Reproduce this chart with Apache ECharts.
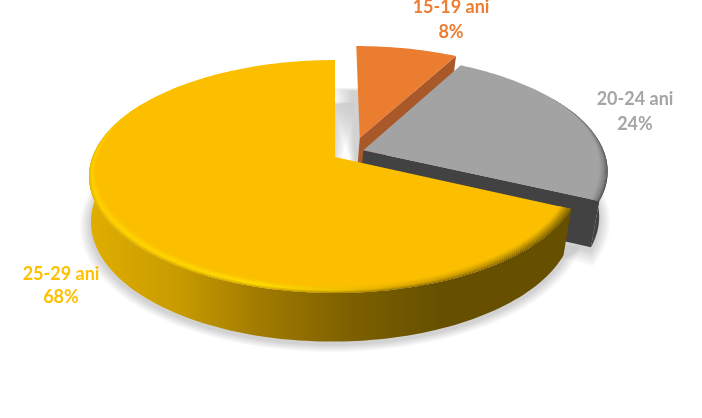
<!DOCTYPE html>
<html><head><meta charset="utf-8">
<style>html,body{margin:0;padding:0;background:#fff}#c{width:702px;height:418px}</style>
<script src="https://cdn.jsdelivr.net/npm/echarts@6/dist/echarts.min.js"></script>
</head><body><div id="c"></div>
<script>
const categories = ['15-19 ani', '20-24 ani', '25-29 ani'];
const shares = [8, 24, 68];

// view geometry of the tilted disc
const V = {cx:335, cy:157, rx:242.5, ry:113.2, p:0.1674, depth:45, lowX:0.98, lowY:0.96, lowShift:-3, wallFrom:60, wallTo:300};
const total = shares.reduce((a,b)=>a+b,0);
const starts = []; shares.reduce((a,v)=>{starts.push(a); return a+v/total*360;},0);
const looks = [
 {face:'#EB7D31', wall:'#A9582A', pull:[0.105,-0.172], label:[451,7,32], text:'#ED7D31'},
 {face:'#A3A3A3', wall:'#424242', pull:[0.118,-0.06], label:[635,99,124], text:'#A5A5A5',
  rim:{from:62,full:100,to:999,width:0.035,stops:[0,1],edge:['#444444','#444444'],bright:['#7d7d7d','#7d7d7d']}},
 {face:'#FBBF00', wallStops:[[90,'#E0AE00'],[180,'#C79A00'],[260,'#A17B00'],[350,'#7D6000'],[440,'#665000'],[570,'#665000']],
  wall:'#665000', pull:[0,0], label:[61,274,297], text:'#FFC000',
  rim:{from:-999,full:235,to:302,width:0.046,stops:[90,260,400,560],
       edge:['#E0AE00','#C89A00','#7A5E00','#665000'],bright:['#FFD600','#FFE600','#D9A500','#9A7600']}}
];
const rad = d=>d*Math.PI/180;
function upper(X,Y){const w=1-V.p*Y;return [V.cx+V.rx*X/w,V.cy+V.ry*Y/w];}
function lower(X,Y){const w=1-V.p*Y;return [V.cx+V.lowShift+V.lowX*V.rx*X/w,V.cy+V.lowY*V.ry*Y/w+V.depth/w];}
function on(pull,a,r){return [pull[0]+r*Math.sin(rad(a)),pull[1]-r*Math.cos(rad(a))];}
function arc(f,pull,a0,a1,r){const o=[];const n=Math.max(2,Math.ceil((a1-a0)/1.5));
  for(let i=0;i<=n;i++){const a=a0+(a1-a0)*i/n;const q=on(pull,a,typeof r==='function'?r(a):r);o.push(f(q[0],q[1]));}return o;}
function hex(c){return [1,3,5].map(i=>parseInt(c.substr(i,2),16));}
function mix(a,b,t){const x=hex(a),y=hex(b);return 'rgb('+x.map((v,i)=>Math.round(v+(y[i]-v)*t)).join(',')+')';}
function sweep(stops){const x0=stops[0][0],x1=stops[stops.length-1][0];
  return new echarts.graphic.LinearGradient(x0,0,x1,0,stops.map(s=>({offset:(s[0]-x0)/(x1-x0),color:s[1]})),true);}

function renderItem(params, api){
  const i=params.dataIndex, L=looks[i], a0=starts[i], a1=a0+api.value(0)/total*360, kids=[];
  // soft cast shadow: stacked faint copies of the slice's underside, each a little larger
  for(let k=9;k>=1;k--){
    const pts=[lower(L.pull[0],L.pull[1])].concat(arc(lower,L.pull,a0-k*0.7,a1+k*0.7,1+k*0.005));
    kids.push({type:'polygon',y:3,z2:0,shape:{points:pts},silent:true,style:{fill:'rgba(0,0,0,0.018)'}});
  }
  // closing radial wall
  if(a1<270){const e=on(L.pull,a1,1);
    kids.push({type:'polygon',z2:1+i*10,shape:{points:[upper(L.pull[0],L.pull[1]),upper(e[0],e[1]),lower(e[0],e[1]),lower(L.pull[0],L.pull[1])]},style:{fill:L.wall}});}
  // outer wall: only the part of the rim that faces the viewer
  const w0=Math.max(a0,V.wallFrom), w1=Math.min(a1,V.wallTo);
  if(w1>w0){
    const wt=arc(upper,L.pull,w0,w1,1), wb=arc(lower,L.pull,w0,w1,1);
    kids.push({type:'polygon',z2:2+i*10,shape:{points:wt.concat(wb.reverse())},style:{fill:L.wallStops?sweep(L.wallStops):L.wall}});
  }
  // top face
  kids.push({type:'polygon',z2:3+i*10,shape:{points:[upper(L.pull[0],L.pull[1])].concat(arc(upper,L.pull,a0,a1,1))},style:{fill:L.face}});
  // bevel rim
  if(L.rim){const R=L.rim,K=10;
    const taper=a=>{let t=1;if(a<R.full&&R.from>-999)t=Math.max(0,(a-R.from)/(R.full-R.from));
      if(a>R.full&&R.to<999)t=Math.max(0,(R.to-a)/(R.to-R.full));return t;};
    const b0=Math.max(a0,R.from), b1=Math.min(a1,R.to);
    for(let k=0;k<K;k++){
      const t0=k/K,t1=(k+1)/K,tm=(k+.5)/K;
      const rout=a=>1-R.width*taper(a)*t0, rin=a=>1-R.width*taper(a)*t1;
      const stops=R.stops.map((x,j)=>[x,tm<.38?mix(R.edge[j],R.bright[j],tm/.38):mix(R.bright[j],L.face,(tm-.38)/.62)]);
      const fill=R.stops.length>2?sweep(stops):stops[0][1];
      kids.push({type:'polygon',z2:4+i*10,shape:{points:arc(upper,L.pull,b0,b1,rout).concat(arc(upper,L.pull,b0,b1,rin).reverse())},style:{fill:fill}});
    }
  }
  // labels
  const font='bold 18px Lato, "Open Sans", sans-serif';
  kids.push({type:'text',z2:90,style:{text:categories[i],x:L.label[0],y:L.label[1],fill:L.text,font:font,align:'center',verticalAlign:'middle'}});
  kids.push({type:'text',z2:90,style:{text:api.value(0)+'%',x:L.label[0],y:L.label[2],fill:L.text,font:font,align:'center',verticalAlign:'middle'}});
  return {type:'group',children:kids};
}
const chart=echarts.init(document.getElementById('c'),null,{renderer:'canvas'});
chart.setOption({animation:false,backgroundColor:'#fff',
  series:[{type:'custom',coordinateSystem:'none',renderItem:renderItem,clip:false,
    data:shares.map((v,i)=>({name:categories[i],value:[v]})),encode:{}}]});
</script></body></html>
